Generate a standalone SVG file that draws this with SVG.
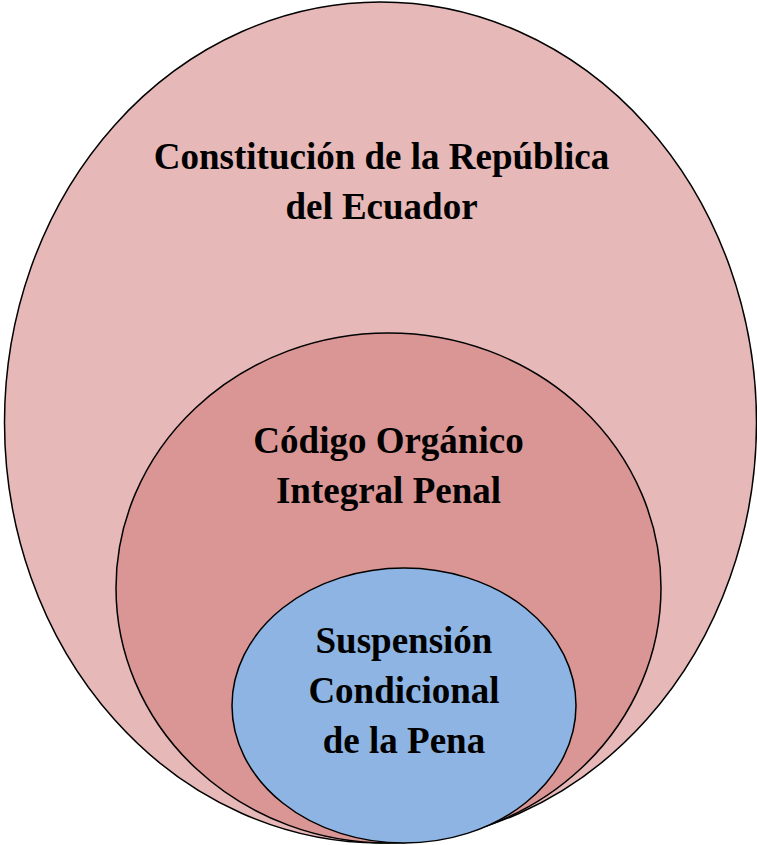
<svg xmlns="http://www.w3.org/2000/svg" width="757" height="845" viewBox="0 0 757 845">
<style>
.n{stroke:#000;stroke-width:1.5}
</style>
<rect width="757" height="845" fill="#fff"/>
<g id="constitucion">
<ellipse class="n" cx="380.5" cy="422.5" rx="376" ry="420.5" fill="#E6B8B7"/>
<text x="381.5" y="169" font-family="Liberation Serif" font-weight="bold" font-size="37" text-anchor="middle">Constitución de la República</text>
<text x="381.5" y="219" font-family="Liberation Serif" font-weight="bold" font-size="37" text-anchor="middle">del Ecuador</text>
</g>
<g id="coip">
<ellipse class="n" cx="388.5" cy="588" rx="272.5" ry="255" fill="#DA9694"/>
<text x="388.5" y="453" font-family="Liberation Serif" font-weight="bold" font-size="37" text-anchor="middle">Código Orgánico</text>
<text x="388.5" y="503" font-family="Liberation Serif" font-weight="bold" font-size="37" text-anchor="middle">Integral Penal</text>
</g>
<g id="suspension">
<ellipse class="n" cx="404" cy="705.5" rx="172" ry="137.5" fill="#8DB4E2"/>
<text x="404" y="653" font-family="Liberation Serif" font-weight="bold" font-size="37" text-anchor="middle">Suspensión</text>
<text x="404" y="703" font-family="Liberation Serif" font-weight="bold" font-size="37" text-anchor="middle">Condicional</text>
<text x="404" y="753" font-family="Liberation Serif" font-weight="bold" font-size="37" text-anchor="middle">de la Pena</text>
</g>
<g id="connectors"/>
</svg>
